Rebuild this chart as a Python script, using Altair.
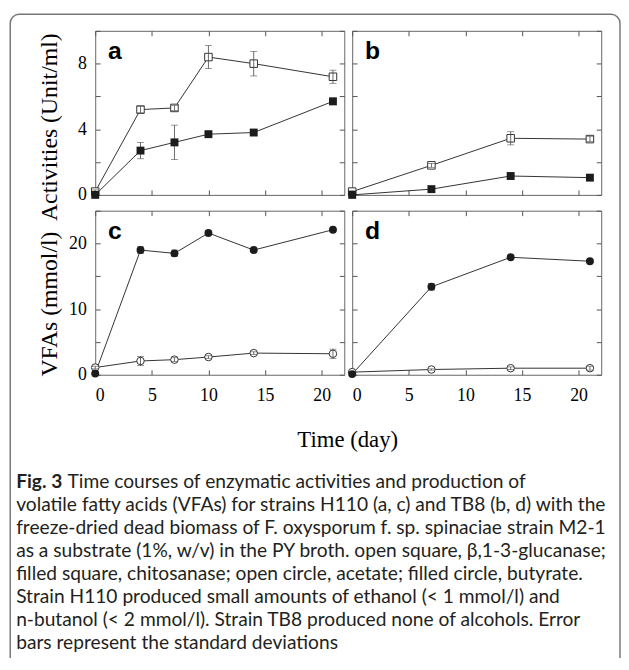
import altair as alt
import pandas as pd

# ---------------- data ----------------
days_ac = [0, 4, 7, 10, 14, 21]
days_bd = [0, 7, 14, 21]

glucanase_a = [0.2, 5.2, 5.3, 8.4, 8.0, 7.2]
glucanase_a_sd = [0.1, 0.2, 0.15, 0.7, 0.75, 0.4]
chitosanase_a = [0.0, 2.7, 3.2, 3.7, 3.8, 5.7]
chitosanase_a_sd = [0.05, 0.5, 1.05, 0.1, 0.1, 0.2]

glucanase_b = [0.2, 1.8, 3.45, 3.4]
glucanase_b_sd = [0.05, 0.12, 0.4, 0.15]
chitosanase_b = [0.0, 0.35, 1.15, 1.05]
chitosanase_b_sd = [0.05, 0.05, 0.1, 0.1]

acetate_c = [1.1, 2.1, 2.3, 2.7, 3.3, 3.2]
acetate_c_sd = [0.2, 0.7, 0.3, 0.2, 0.2, 0.7]
butyrate_c = [0.2, 19.0, 18.5, 21.6, 19.0, 22.1]
butyrate_c_sd = [0.1, 0.5, 0.5, 0.2, 0.2, 0.2]

acetate_d = [0.4, 0.8, 1.0, 1.0]
acetate_d_sd = [0.1, 0.1, 0.2, 0.3]
butyrate_d = [0.1, 13.4, 17.9, 17.3]
butyrate_d_sd = [0.1, 0.5, 0.2, 0.2]

x_ticks = [0, 5, 10, 15, 20]
y_ticks_act = [0, 2, 4, 6, 8, 10]
y_ticks_vfa = [0, 5, 10, 15, 20, 25]

caption_lines = [
    "volatile fatty acids (VFAs) for strains H110 (a, c) and TB8 (b, d) with the",
    "freeze-dried dead biomass of F. oxysporum f. sp. spinaciae strain M2-1",
    "as a substrate (1%, w/v) in the PY broth. open square, \u03b2,1-3-glucanase;",
    "filled square, chitosanase; open circle, acetate; filled circle, butyrate.",
    "Strain H110 produced small amounts of ethanol (< 1 mmol/l) and",
    "n-butanol (< 2 mmol/l). Strain TB8 produced none of alcohols. Error",
    "bars represent the standard deviations",
]
caption_first = "Time courses of enzymatic activities and production of"

SERIF = "Liberation Serif"
SANS = "Lato"
CAP_SIZE = 19.4
W, H = 252, 166
TICK = "#555"


def make_df(days, open_v, open_sd, fill_v, fill_sd):
    rows = []
    for d, v, e in zip(days, open_v, open_sd):
        rows.append({"day": d, "value": v, "lo": v - e, "hi": v + e, "series": "open"})
    for d, v, e in zip(days, fill_v, fill_sd):
        rows.append({"day": d, "value": v, "lo": v - e, "hi": v + e, "series": "filled"})
    return pd.DataFrame(rows)


def panel(df, shape, ydom, yticks, lab_step, letter, xlabels, ylabels,
          ytitle=None, title_y=None):
    xs = alt.Scale(domain=[0, 22], nice=False, zero=False)
    ys = alt.Scale(domain=ydom, nice=False, zero=False)
    common = dict(offset=-5, tickSize=5, domain=False, grid=False,
                  tickColor=TICK, tickWidth=1, labelFont=SERIF,
                  labelFontSize=18, labelColor="black")
    ax_bottom = alt.Axis(orient="bottom", values=x_ticks, labels=xlabels,
                         labelPadding=12, title=None, **common)
    ax_top = alt.Axis(orient="top", values=x_ticks, labels=False, title=None, **common)
    left_kw = dict(orient="left", values=yticks, labels=ylabels, labelPadding=9,
                   labelExpr=f"datum.value % {lab_step} == 0 ? datum.label : ''")
    if ytitle:
        left_kw.update(title=ytitle, titleFont=SERIF, titleFontSize=24,
                       titleFontWeight="normal", titleColor="black",
                       titleAngle=270, titleAlign="center",
                       titleBaseline="alphabetic", titleX=-44, titleY=title_y)
    else:
        left_kw.update(title=None)
    ax_left = alt.Axis(**left_kw, **common)
    ax_right = alt.Axis(orient="right", values=yticks, labels=False, title=None, **common)

    base = alt.Chart(df)
    line = base.mark_line(color="#333", strokeWidth=1).encode(
        x=alt.X("day:Q", scale=xs, axis=ax_bottom),
        y=alt.Y("value:Q", scale=ys, axis=ax_left),
        detail="series:N",
    )
    open_pts = base.transform_filter(alt.datum.series == "open").mark_point(
        shape=shape, size=58, fill="white", stroke="#333", strokeWidth=1, opacity=1
    ).encode(
        x=alt.X("day:Q", scale=xs, axis=ax_top),
        y=alt.Y("value:Q", scale=ys, axis=ax_right),
    )
    err = base.mark_rule(color="#444", strokeWidth=0.8).encode(
        x=alt.X("day:Q", scale=xs, axis=None),
        y=alt.Y("lo:Q", scale=ys, axis=None),
        y2="hi:Q",
    )
    cap_lo = base.mark_tick(orient="horizontal", size=7, thickness=0.8, color="#444").encode(
        x=alt.X("day:Q", scale=xs, axis=None),
        y=alt.Y("lo:Q", scale=ys, axis=None),
    )
    cap_hi = base.mark_tick(orient="horizontal", size=7, thickness=0.8, color="#444").encode(
        x=alt.X("day:Q", scale=xs, axis=None),
        y=alt.Y("hi:Q", scale=ys, axis=None),
    )
    fill_pts = base.transform_filter(alt.datum.series == "filled").mark_point(
        shape=shape, size=64, filled=True, color="#1c1c1c", opacity=1
    ).encode(
        x=alt.X("day:Q", scale=xs, axis=None),
        y=alt.Y("value:Q", scale=ys, axis=None),
    )
    lab = alt.Chart(pd.DataFrame({"t": [letter]})).mark_text(
        font="Liberation Sans", fontWeight="bold", fontSize=25, align="left",
        baseline="alphabetic", color="black"
    ).encode(x=alt.value(13), y=alt.value(29), text="t:N")

    return alt.layer(line, open_pts, err, cap_lo, cap_hi, fill_pts, lab).resolve_axis(
        x="independent", y="independent"
    ).properties(width=W, height=H)


pa = panel(make_df(days_ac, glucanase_a, glucanase_a_sd, chitosanase_a, chitosanase_a_sd),
           "square", [0, 10], y_ticks_act, 4, "a", False, True,
           "Activities (Unit/ml)", 97)
pb = panel(make_df(days_bd, glucanase_b, glucanase_b_sd, chitosanase_b, chitosanase_b_sd),
           "square", [0, 10], y_ticks_act, 4, "b", False, False)
pc = panel(make_df(days_ac, acetate_c, acetate_c_sd, butyrate_c, butyrate_c_sd),
           "circle", [0, 25], y_ticks_vfa, 10, "c", True, True,
           "VFAs (mmol/l)", 94)
pd_ = panel(make_df(days_bd, acetate_d, acetate_d_sd, butyrate_d, butyrate_d_sd),
            "circle", [0, 25], y_ticks_vfa, 10, "d", True, False)

# ---------------- caption area ----------------
one = pd.DataFrame({"k": [0]})
row_scale = alt.Scale(domain=[0, 7], range=[92.3, 255.5])

frame = alt.Chart(one).mark_rect(
    fillOpacity=0, stroke="#777", strokeWidth=1.5, cornerRadius=9
).encode(x=alt.value(-86), x2=alt.value(531), y=alt.value(-380.7), y2=alt.value(282))

time_title = alt.Chart(pd.DataFrame({"t": ["Time (day)"]})).mark_text(
    font=SERIF, fontSize=23, align="center", baseline="middle", color="black"
).encode(x=alt.value(255.5), y=alt.value(50), text="t:N")

fig_lab = alt.Chart(pd.DataFrame({"t": ["Fig. 3"], "row": [0]})).mark_text(
    font=SANS, fontSize=CAP_SIZE, fontWeight="bold", align="left", baseline="middle",
    color="#231f20"
).encode(x=alt.value(-80), y=alt.Y("row:Q", scale=row_scale, axis=None), text="t:N")

first_line = alt.Chart(pd.DataFrame({"t": [caption_first], "row": [0]})).mark_text(
    font=SANS, fontSize=CAP_SIZE, align="left", baseline="middle", color="#231f20"
).encode(x=alt.value(-28), y=alt.Y("row:Q", scale=row_scale, axis=None), text="t:N")

cap_df = pd.DataFrame({"t": caption_lines, "row": list(range(1, len(caption_lines) + 1))})
other_lines = alt.Chart(cap_df).mark_text(
    font=SANS, fontSize=CAP_SIZE, align="left", baseline="middle", color="#231f20"
).encode(x=alt.value(-80), y=alt.Y("row:Q", scale=row_scale, axis=None), text="t:N")

caption = alt.layer(frame, time_title, fig_lab, first_line, other_lines).properties(
    width=W, height=240, view=alt.ViewBackground(strokeOpacity=0)
)

chart = alt.concat(
    pa, pb, pc, pd_, caption, columns=2, bounds="flush",
    spacing={"row": 16, "column": 8},
).properties(
    padding={"left": 1.25, "top": 1.25, "right": 0, "bottom": -16.5}
).configure_view(stroke="#666", strokeWidth=1)

chart.save("out.html", embed_options={"renderer": "svg", "actions": False})
